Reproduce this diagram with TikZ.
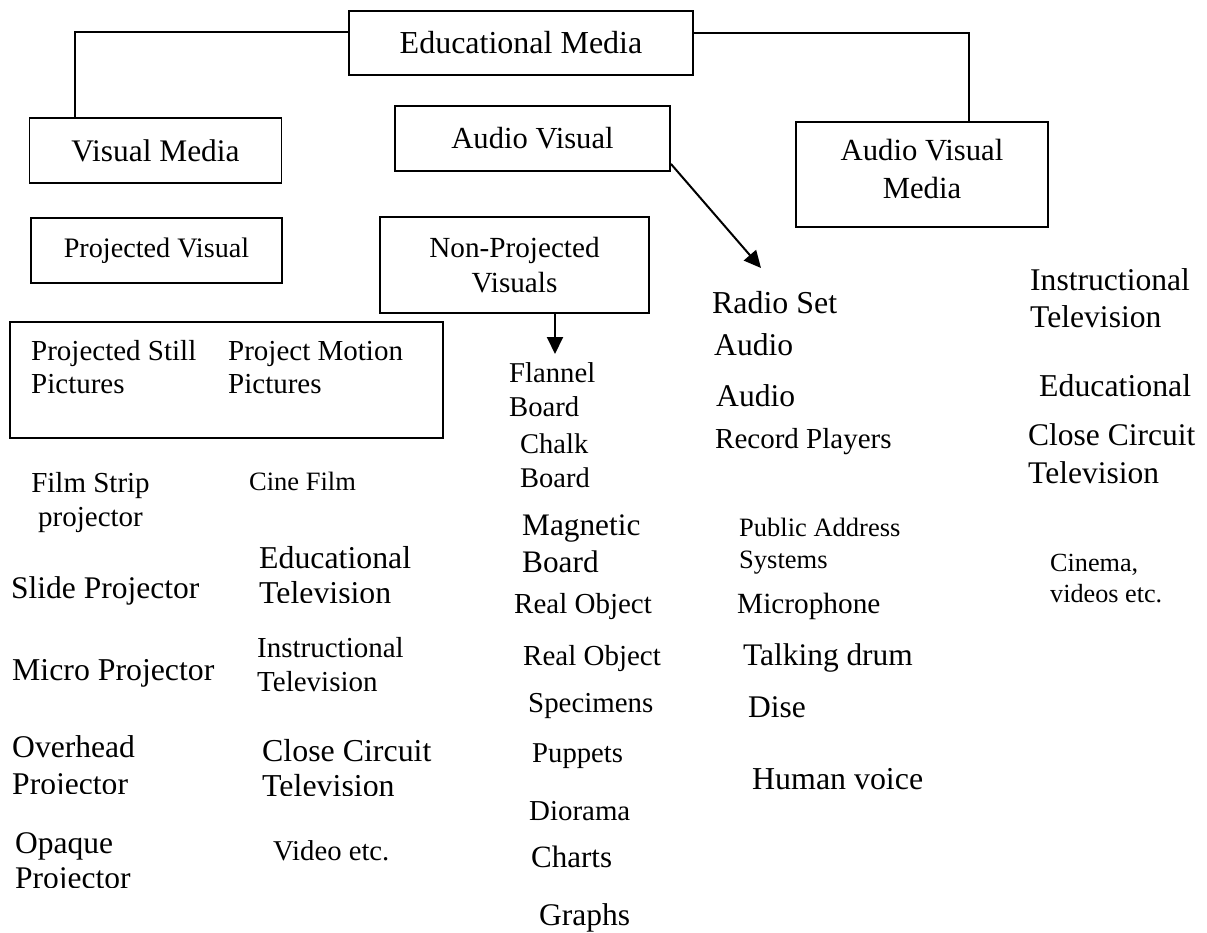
\documentclass[tikz,border=0pt]{standalone}
\usepackage{fontspec}
\setmainfont{Liberation Serif}
\usetikzlibrary{arrows.meta}
\newcommand\fsz[2]{\fontsize{#1}{#2}\selectfont}

\begin{document}
\begin{tikzpicture}[x=1pt,y=-1pt,
  box/.style={draw, line width=1.9pt, inner sep=0pt, align=center},
  lbl/.style={inner sep=0pt, anchor=base west, align=left},
  clbl/.style={inner sep=0pt, anchor=base, align=center},
  link/.style={line width=1.9pt},
  arr/.style={line width=2pt, -{Triangle[length=17pt,width=16pt]}}]
\useasboundingbox (0,0) rectangle (1207,933);

% ---------- framed headings ----------
\node[box, minimum width=344pt, minimum height=64pt, font=\fsz{32}{36}] (em) at (521,43) {Educational Media};
\node[box, minimum width=252pt, minimum height=65pt, font=\fsz{31.4}{36}] (vm) at (155.5,150.5) {Visual Media};
\node[box, minimum width=275pt, minimum height=65pt, font=\fsz{30.6}{36}] (av) at (532.5,138.5) {Audio Visual};
\node[box, minimum width=252pt, minimum height=105pt, text depth=12pt, font=\fsz{30.7}{38}] (avm) at (922,174.5) {Audio Visual\\Media};
\node[box, minimum width=251pt, minimum height=65pt, font=\fsz{28.2}{34}] (pv) at (156.5,250.5) {Projected Visual};
\node[box, minimum width=269pt, minimum height=96pt, font=\fsz{29.2}{35}] (npv) at (514.5,265) {Non-Projected\\Visuals};
\node[box, minimum width=433pt, minimum height=116pt] (ppbox) at (226.5,380) {};

% ---------- connectors ----------
\coordinate (avtip) at (761,268);
\coordinate (npvtip) at (555,354);
\draw[link] ([yshift=11pt]em.west) -| ([xshift=-80.5pt]vm.north);
\draw[link] ([yshift=10pt]em.east) -| ([xshift=47pt]avm.north);
\draw[arr] ([yshift=8pt]av.south east) -- (avtip);
\draw[arr] (npv.south -| npvtip) -- (npvtip);

% ---------- projected visuals (multi-line labels sit on their last line) ----------
\node[lbl, font=\fsz{29}{33}] (still) at (31,393) {Projected Still\\Pictures};
\node[lbl, font=\fsz{29}{33}] (motion) at (228,393) {Project Motion\\Pictures};
\node[clbl, font=\fsz{29}{34}] (film) at (90.5,526) {Film Strip\\projector};
\node[lbl, font=\fsz{26.5}{30}] (cine) at (249,490) {Cine Film};
\node[lbl, font=\fsz{31.5}{36}] (slide) at (11,598) {Slide Projector};
\begin{scope}
  \clip (240,530) rectangle (440,602);
  \node[lbl, font=\fsz{31.8}{35}] (edtv) at (259,603) {Educational\\Television};
\end{scope}
\node[lbl, font=\fsz{31.8}{36}] (micro) at (12,680) {Micro Projector};
\node[lbl, font=\fsz{29}{34}] (insttv) at (257,691) {Instructional\\Television};
\begin{scope}
  \clip (0,715) rectangle (240,793);
  \node[lbl, font=\fsz{31.6}{37}] (over) at (12,794) {Overhead\\Projector};
\end{scope}
\begin{scope}
  \clip (240,720) rectangle (450,795);
  \node[lbl, font=\fsz{31.9}{35}] (cctv) at (262,796) {Close Circuit\\Television};
\end{scope}
\begin{scope}
  \clip (0,810) rectangle (240,887);
  \node[lbl, font=\fsz{31.5}{35}] (opaque) at (15,888) {Opaque\\Projector};
\end{scope}
\node[lbl, font=\fsz{28.7}{33}] (video) at (273,860) {Video etc.};

% ---------- non-projected visuals ----------
\node[lbl, font=\fsz{28.7}{34}] (flannel) at (509,416) {Flannel\\Board};
\node[lbl, font=\fsz{28.5}{34}] (chalk) at (520,487) {Chalk\\Board};
\node[lbl, font=\fsz{31.3}{37}] (magnet) at (522,572) {Magnetic\\Board};
\node[lbl, font=\fsz{29}{33}] (realA) at (514,613) {Real Object};
\node[lbl, font=\fsz{29}{33}] (realB) at (523,665) {Real Object};
\node[lbl, font=\fsz{28.9}{33}] (spec) at (528,712) {Specimens};
\node[lbl, font=\fsz{28.7}{33}] (pupp) at (532,762) {Puppets};
\node[lbl, font=\fsz{28.9}{33}] (dior) at (529,820) {Diorama};
\node[lbl, font=\fsz{31}{35}] (chart) at (531,867) {Charts};
\node[lbl, font=\fsz{31.5}{36}] (graph) at (539,925) {Graphs};

% ---------- audio ----------
\node[lbl, font=\fsz{31.9}{36}] (radio) at (712,313) {Radio Set};
\node[lbl, font=\fsz{31.6}{36}] (audA) at (714,355) {Audio};
\node[lbl, font=\fsz{31.6}{36}] (audB) at (716,406) {Audio};
\node[lbl, font=\fsz{29}{33}] (record) at (715,448) {Record Players};
\node[lbl, font=\fsz{26.5}{32}] (pa) at (739,568) {Public Address\\Systems};
\node[lbl, font=\fsz{29.3}{33}] (mic) at (737,613) {Microphone};
\node[lbl, font=\fsz{31.4}{36}] (drum) at (743,665) {Talking drum};
\node[lbl, font=\fsz{31.5}{36}] (dise) at (748,717) {Dise};
\node[lbl, font=\fsz{31.9}{36}] (voice) at (752,789) {Human voice};

% ---------- audio visual media ----------
\node[lbl, font=\fsz{31.6}{37}] (instrR) at (1030,327) {Instructional\\Television};
\node[lbl, font=\fsz{31.8}{36}] (educR) at (1039,396) {Educational};
\node[lbl, font=\fsz{31.5}{38}] (cctvR) at (1028,483) {Close Circuit\\Television};
\node[lbl, font=\fsz{26.2}{31}] (cinema) at (1050,602) {Cinema,\\videos etc.};
\end{tikzpicture}
\end{document}
